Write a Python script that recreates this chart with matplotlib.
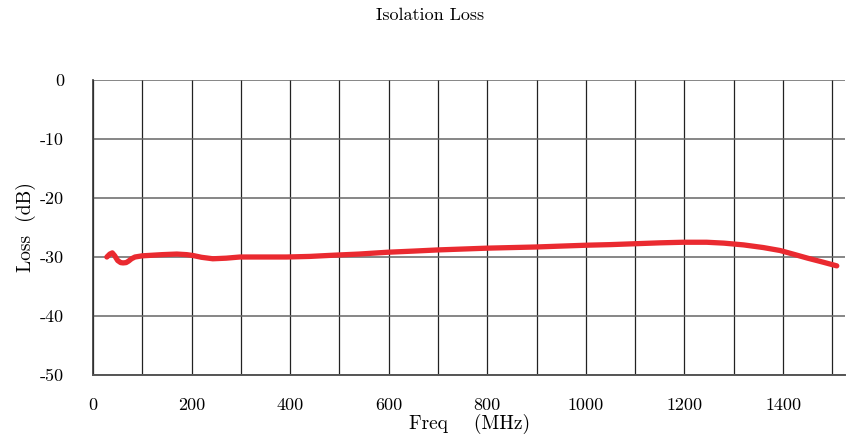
import matplotlib
matplotlib.use("Agg")
import matplotlib.pyplot as plt
import numpy as np

plt.rcParams["font.family"] = ["cmr10", "DejaVu Serif"]
plt.rcParams["axes.unicode_minus"] = False
plt.rcParams["axes.formatter.use_mathtext"] = False

freq = [28, 34, 39, 44, 50, 56, 61, 67, 72, 78, 85, 100, 120, 140, 170, 190, 203,
        220, 243, 270, 298, 350, 393, 440, 487, 540, 596, 650, 700, 750, 800,
        850, 900, 950, 1002, 1050, 1100, 1150, 1197, 1245, 1280, 1320, 1360,
        1394, 1420, 1450, 1480, 1509]
loss = [-30.0, -29.5, -29.3, -29.8, -30.6, -30.95, -31.0, -30.95, -30.7, -30.3,
        -30.0, -29.8, -29.7, -29.6, -29.5, -29.6, -29.75, -30.05, -30.3, -30.2,
        -30.0, -30.0, -30.0, -29.9, -29.7, -29.5, -29.2, -29.0, -28.8, -28.65,
        -28.5, -28.4, -28.3, -28.15, -28.0, -27.9, -27.75, -27.6, -27.5, -27.5,
        -27.65, -27.95, -28.4, -28.9, -29.5, -30.2, -30.85, -31.5]

xticks = [0, 200, 400, 600, 800, 1000, 1200, 1400]
yticks = [0, -10, -20, -30, -40, -50]

fig = plt.figure(figsize=(8.46, 4.43), dpi=100)
ax = fig.add_axes([0.110, 0.1535, 0.889, 0.6659])

ax.plot(freq, loss, color="#ea2a30", linewidth=3.8, solid_capstyle="round",
        solid_joinstyle="round", zorder=3)

ax.set_xlim(0, 1526)
ax.set_ylim(-50, 0)

ax.set_xticks(np.arange(100, 1600, 100), minor=True)
ax.set_xticks(xticks)
ax.set_xticklabels([str(v) for v in xticks], fontsize=13)
ax.set_yticks(yticks)
ax.set_yticklabels([str(v) for v in yticks], fontsize=13)
ax.tick_params(axis="both", which="both", length=0)
ax.tick_params(axis="x", pad=16)
ax.tick_params(axis="y", pad=21)

ax.grid(True, axis="x", which="both", color="#222222", linewidth=0.9)
ax.grid(True, axis="y", color="#666666", linewidth=1.1)

for side in ["top", "right"]:
    ax.spines[side].set_visible(False)
ax.spines["left"].set_color("#333333")
ax.spines["bottom"].set_color("#555555")
ax.spines["left"].set_linewidth(1.2)
ax.spines["bottom"].set_linewidth(1.4)

ax.set_xlabel("Freq    (MHz)", fontsize=14, labelpad=1)
ax.set_ylabel("Loss  (dB)", fontsize=14, labelpad=3)

fig.text(0.508, 0.965, "Isolation Loss", ha="center", va="center", fontsize=13)

fig.savefig("out.png", dpi=100)
